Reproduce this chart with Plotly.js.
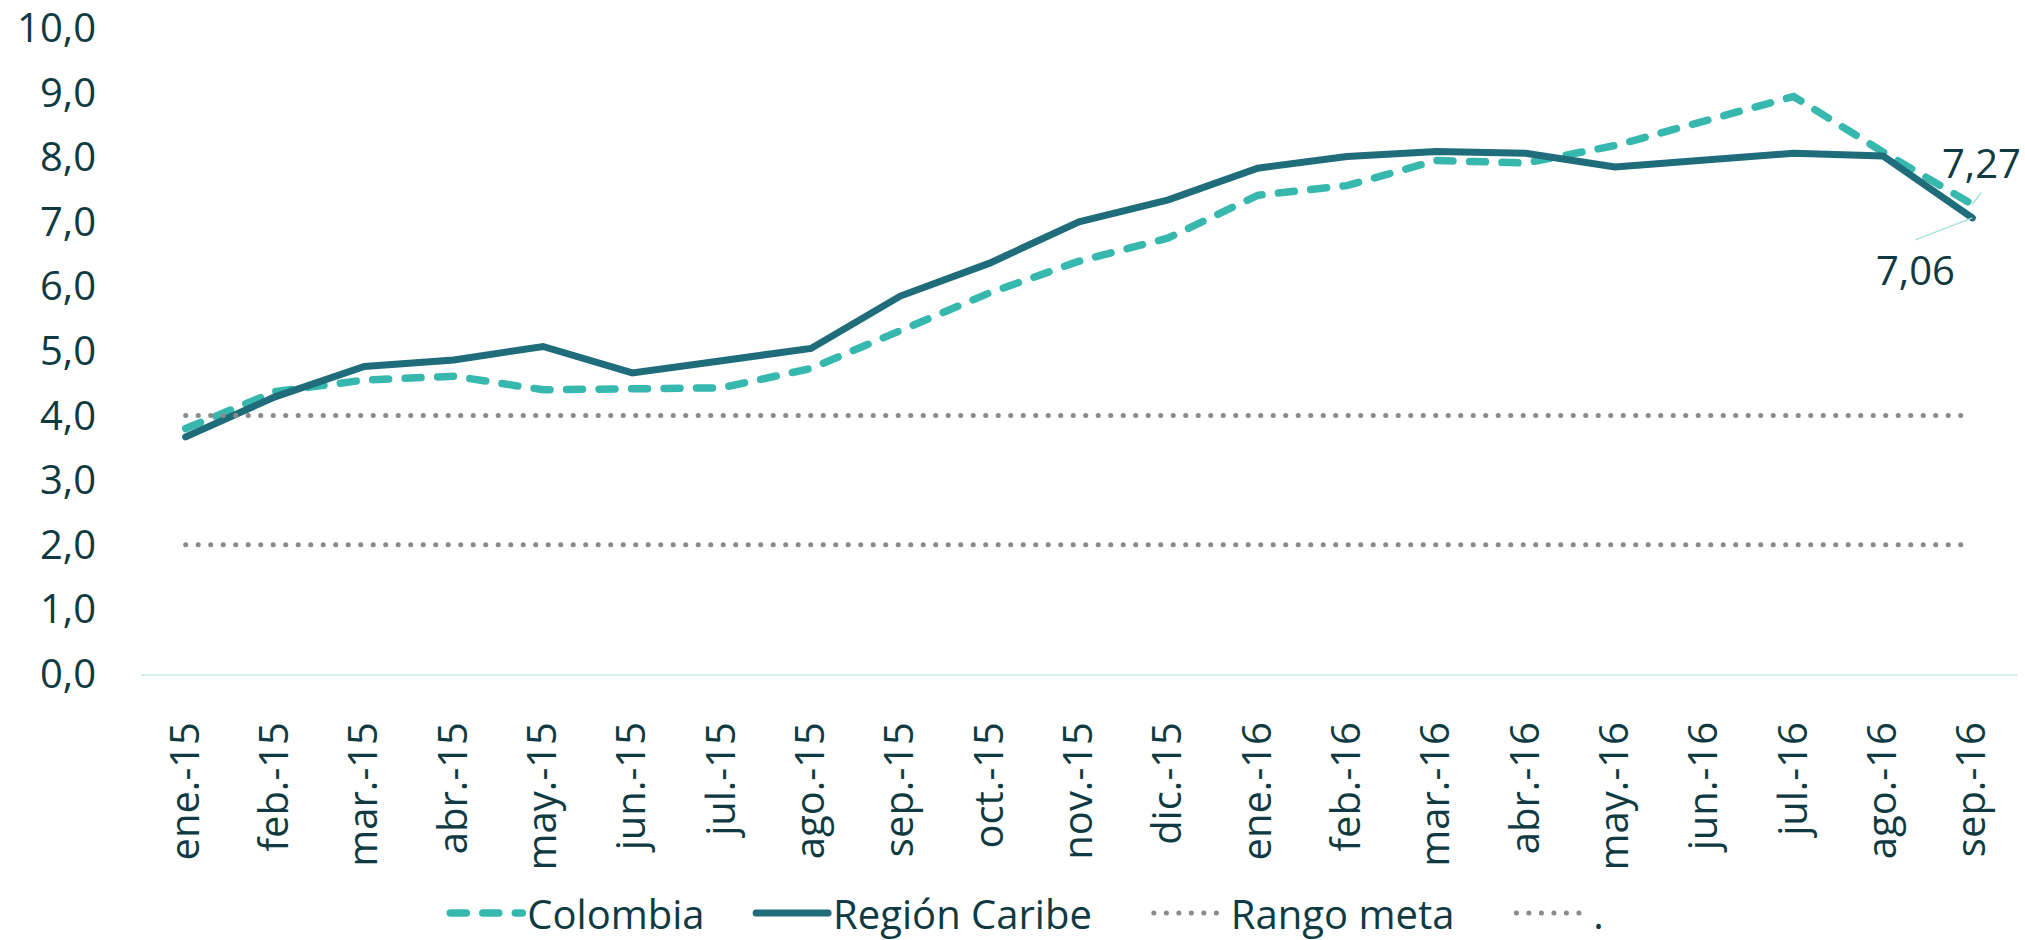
<!DOCTYPE html>
<html>
<head>
<meta charset="utf-8">
<script src="https://cdn.plot.ly/plotly-3.0.1.min.js"></script>
<style>
  html, body { margin: 0; padding: 0; background: #ffffff; }
  #chart { width: 2025px; height: 940px; }
  .scatterlayer .js-line, .legendlines path { stroke-linecap: round; }
</style>
</head>
<body>
<div id="chart"></div>
<script>
const meses = ['ene.-15','feb.-15','mar.-15','abr.-15','may.-15','jun.-15','jul.-15','ago.-15','sep.-15','oct.-15','nov.-15','dic.-15',
               'ene.-16','feb.-16','mar.-16','abr.-16','may.-16','jun.-16','jul.-16','ago.-16','sep.-16'];
const colombia = [3.80,4.37,4.55,4.61,4.40,4.41,4.43,4.73,5.33,5.90,6.39,6.75,7.41,7.56,7.95,7.91,8.18,8.57,8.94,8.08,7.27];
const regionCaribe = [3.67,4.29,4.76,4.86,5.07,4.66,4.85,5.04,5.85,6.36,7.00,7.34,7.83,8.01,8.09,8.06,7.85,7.96,8.06,8.02,7.06];
const rangoMetaSup = [4,4,4,4,4,4,4,4,4,4,4,4,4,4,4,4,4,4,4,4,4];
const rangoMetaInf = [2,2,2,2,2,2,2,2,2,2,2,2,2,2,2,2,2,2,2,2,2];
const nombres = ['Colombia', 'Región Caribe', 'Rango meta', '.'];

const textColor = '#0f3a42';
const baseFont = "'Open Sans', 'DejaVu Sans', sans-serif";
const sp4 = '\u00a0\u00a0\u00a0\u00a0';
const sp5 = '\u00a0\u00a0\u00a0\u00a0\u00a0';

const traces = [
  { x: meses, y: colombia, name: nombres[0] + sp4, type: 'scatter', mode: 'lines',
    line: { color: '#37b8af', width: 7.5, dash: '16px,16.5px' }, hoverinfo: 'skip' },
  { x: meses, y: regionCaribe, name: nombres[1] + sp5, type: 'scatter', mode: 'lines',
    line: { color: '#1f6c7a', width: 7 }, hoverinfo: 'skip' },
  { x: meses, y: rangoMetaSup, name: nombres[2] + sp5, type: 'scatter', mode: 'lines',
    line: { color: '#8a8a8a', width: 5, dash: '0.1px,12.4px' }, hoverinfo: 'skip' },
  { x: meses, y: rangoMetaInf, name: nombres[3], type: 'scatter', mode: 'lines',
    line: { color: '#8a8a8a', width: 5, dash: '0.1px,12.4px' }, hoverinfo: 'skip' }
];

const n = meses.length - 1;
const layout = {
  width: 2025, height: 940,
  margin: { l: 141, r: 8, t: 28, b: 266, autoexpand: false },
  paper_bgcolor: '#ffffff', plot_bgcolor: '#ffffff',
  separators: ',.',
  showlegend: true,
  font: { family: baseFont, color: textColor, size: 40 },
  xaxis: {
    type: 'category', categoryorder: 'array', categoryarray: meses,
    range: [-0.5, n + 0.5], automargin: false,
    tickangle: -90, tickfont: { family: baseFont, size: 40, color: textColor },
    ticklabelstandoff: 30,
    showline: true, linecolor: '#d4efed', linewidth: 2,
    showgrid: false, zeroline: false, ticks: ''
  },
  yaxis: {
    range: [0, 10], tickmode: 'linear', tick0: 0, dtick: 1, tickformat: '.1f', automargin: false,
    ticklabeloverflow: 'allow',
    tickfont: { family: baseFont, size: 40, color: textColor },
    ticklabelstandoff: 44,
    showgrid: false, zeroline: false, showline: false, ticks: ''
  },
  legend: {
    orientation: 'h', x: 0.1622, xanchor: 'left', y: -0.370, yanchor: 'middle',
    font: { family: baseFont, size: 40, color: textColor },
    itemwidth: 72, bgcolor: 'rgba(0,0,0,0)'
  },
  annotations: [
    { x: meses[n], y: colombia[n], xref: 'x', yref: 'y', text: '7,27',
      showarrow: true, arrowhead: 0, arrowwidth: 1.5, arrowcolor: '#a3e2dc',
      ax: 9, ay: -12, xanchor: 'center', yanchor: 'bottom', standoff: 0,
      font: { family: baseFont, size: 40, color: textColor } },
    { x: meses[n], y: regionCaribe[n], xref: 'x', yref: 'y', text: '7,06',
      showarrow: true, arrowhead: 0, arrowwidth: 1.5, arrowcolor: '#a3e2dc',
      ax: -57, ay: 22, xanchor: 'center', yanchor: 'top', standoff: 0,
      font: { family: baseFont, size: 40, color: textColor } }
  ]
};

Plotly.newPlot('chart', traces, layout, { staticPlot: true, displayModeBar: false });
</script>
</body>
</html>
